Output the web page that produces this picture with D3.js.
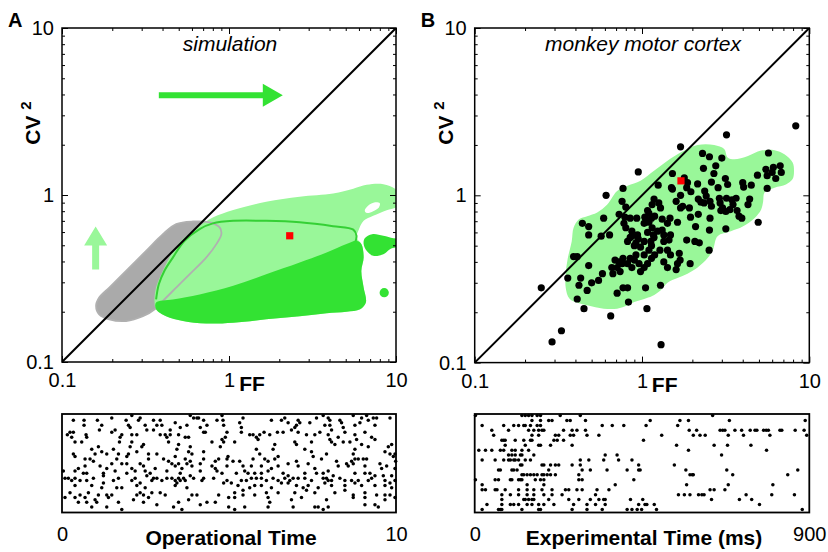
<!DOCTYPE html>
<html>
<head>
<meta charset="utf-8">
<script src="https://cdn.jsdelivr.net/npm/d3@7"></script>
<style>
  body { margin: 0; background: #fff; }
  svg { display: block; }
  text { font-family: "Liberation Sans", Arial, Helvetica, sans-serif; fill: #000; }
</style>
</head>
<body>
<svg id="fig" width="828" height="552"></svg>
<script>
// ---- data (FF, CV^2) ----
const majorTicks = [0.1, 1, 10];
const tickLabels = ["0.1", "1", "10"];
const minorTicks = [0.2, 0.3, 0.4, 0.5, 0.6, 0.7, 0.8, 0.9, 2, 3, 4, 5, 6, 7, 8, 9];

// panel A: density regions of the simulated network
const grayRegion = [[0.16,0.217],[0.167,0.243],[0.192,0.279],[0.242,0.351],[0.319,0.463],[0.402,0.583],[0.483,0.67],[0.608,0.694],[0.765,0.686],[0.879,0.64],[0.90,0.583],[0.84,0.508],[0.73,0.422],[0.58,0.335],[0.483,0.279],[0.402,0.232],[0.366,0.21],[0.305,0.188],[0.242,0.176],[0.192,0.18],[0.167,0.193]];
const lightRegion = [[0.506,0.52],[0.608,0.61],[0.714,0.686],[0.80,0.734],[1.06,0.813],[1.67,0.912],[2.65,0.977],[4.2,1.02],[5.55,1.09],[6.67,1.15],[8.4,1.16],[9.86,1.09],[10.6,0.97],[10.3,0.86],[8.8,0.81],[7.3,0.75],[6.4,0.70],[5.95,0.61],[5.8,0.557],[6.2,0.508],[6.4,0.422],[6.2,0.351],[6.4,0.279],[6.6,0.227],[6.1,0.207],[5.05,0.2],[3.84,0.196],[2.65,0.188],[1.67,0.18],[1.06,0.172],[0.73,0.17],[0.53,0.176],[0.42,0.188],[0.366,0.207],[0.358,0.232],[0.366,0.279],[0.393,0.335],[0.44,0.422]];
const darkRegion = [[0.366,0.227],[0.461,0.237],[0.667,0.254],[1.06,0.286],[1.67,0.335],[2.65,0.394],[3.84,0.452],[5.05,0.508],[5.8,0.532],[6.2,0.508],[6.4,0.422],[6.2,0.351],[6.4,0.279],[6.6,0.227],[6.1,0.207],[5.05,0.2],[3.84,0.196],[2.65,0.188],[1.67,0.18],[1.06,0.172],[0.73,0.17],[0.53,0.176],[0.42,0.188],[0.366,0.207]];
const darkIsland = [[6.5,0.55],[7.2,0.583],[8.4,0.57],[9.64,0.55],[10.6,0.544],[10.6,0.50],[9.2,0.474],[8.4,0.442],[7.3,0.432],[6.67,0.463],[6.4,0.508]];
const darkSpot = [8.5, 0.26];
const holeRegion = [[6.5,0.806],[6.8,0.863],[7.5,0.904],[8.0,0.891],[7.9,0.843],[7.3,0.80],[6.7,0.78]];
const greenContour = [[0.366,0.237],[0.38,0.292],[0.41,0.351],[0.461,0.422],[0.542,0.532],[0.667,0.625],[0.80,0.676],[1.06,0.70],[1.67,0.70],[2.65,0.686],[4.2,0.65],[5.55,0.62],[5.8,0.57],[5.7,0.52]];
const simMarker = [2.31, 0.57];
const arrowRight = { from: [0.38, 3.96], to: [2.1, 3.96] };
const arrowUp = { from: [0.159, 0.358], to: [0.159, 0.648] };

// panel B: recorded neurons
const monkeyRegion = [[1.42,1.61],[1.7,1.8],[2.15,2.0],[2.7,2.0],[3.1,1.89],[3.25,1.68],[3.56,1.64],[4.3,1.72],[5.15,1.85],[6.2,1.86],[7.1,1.76],[7.95,1.57],[8.1,1.4],[7.95,1.25],[7.25,1.16],[6.2,1.11],[5.4,1.04],[5.3,0.92],[5.15,0.82],[4.7,0.73],[4.0,0.65],[3.4,0.61],[2.83,0.57],[2.65,0.47],[2.46,0.42],[2.15,0.37],[1.87,0.34],[1.63,0.32],[1.42,0.3],[1.29,0.27],[1.15,0.25],[1.03,0.24],[0.9,0.23],[0.82,0.22],[0.71,0.21],[0.59,0.21],[0.47,0.22],[0.37,0.24],[0.35,0.28],[0.35,0.34],[0.36,0.42],[0.38,0.53],[0.39,0.64],[0.42,0.72],[0.47,0.75],[0.54,0.79],[0.62,0.88],[0.71,1.06],[0.82,1.14],[0.98,1.22],[1.18,1.4]];
const monkeyCells = [
  [8.3,2.6],[3.2,2.3],[1.7,1.95],[0.95,1.38],[0.61,1.0],[0.25,0.28],[0.33,0.155],[0.29,0.133],[1.3,0.128],[0.65,0.19],[1.07,0.21],[4.95,0.69],[0.45,0.21],[0.41,0.24],
  [2.3,1.78],[2.53,1.70],[5.7,1.79],[3.0,1.67],[2.33,1.45],[2.76,1.5],[2.69,1.35],[5.5,1.43],[6.7,1.5],[6.8,1.37],[6.3,1.26],[6.0,1.37],[5.6,1.31],[4.9,1.32],[3.15,1.26],[3.25,1.16],[4.0,1.19],[4.05,1.12],[4.5,1.15],[5.6,1.1],[2.85,1.11],[2.6,1.2],[2.15,1.17],[1.87,1.19],[1.85,1.11],[1.96,1.05],[2.37,1.06],[2.42,0.99],[2.17,0.95],[2.25,0.91],[2.55,0.92],[2.9,0.96],[2.93,0.9],[3.2,0.96],[3.45,0.94],[3.65,0.96],[3.5,0.88],[3.35,0.82],[3.03,0.84],[3.17,0.8],[3.7,0.81],[4.4,0.95],[4.3,0.88],[3.8,0.75],[2.6,0.86],[2.35,0.9],[6.1,1.47],
  [1.52,1.35],[1.79,1.27],[1.25,1.15],[1.52,1.09],[1.7,1.0],[1.6,0.92],[1.7,0.84],[1.92,0.84],[1.75,0.86],[1.95,0.74],[2.17,0.77],[2.55,0.73],[2.53,0.62],[3.17,0.63],[2.09,0.65],[2.07,0.53],[2.2,0.52],[1.85,0.54],[2.52,0.47],[1.63,0.69],[1.47,0.73],[1.42,0.68],[1.48,0.58],[1.45,0.54],[1.19,0.75],[1.14,0.73],[1.1,0.78],[1.26,0.9],[1.29,0.84],[1.15,0.88],[1.18,0.95],[1.08,0.81],[1.04,0.74],[0.93,0.73],[0.85,0.73],[0.79,0.74],[0.78,0.68],[0.8,0.64],[0.87,0.61],[0.94,0.58],[1.03,0.68],[1.1,0.69],[1.15,0.64],[1.08,0.6],[1.17,0.58],[1.24,0.61],[1.32,0.62],[1.35,0.58],[1.35,0.53],[1.18,0.56],[1.13,0.53],[1.03,0.53],[0.95,0.55],[0.92,0.52],[0.87,0.57],[0.85,0.56],[0.82,0.53],[0.9,0.5],[0.98,0.49],[1.03,0.44],[1.1,0.47],[1.14,0.42],[1.08,0.39],[1.03,0.37],[0.96,0.39],[0.9,0.41],[0.85,0.42],[0.82,0.39],[0.76,0.39],[0.73,0.4],[0.69,0.41],[0.71,0.37],[0.66,0.37],[0.67,0.34],[0.74,0.35],[0.87,0.37],[0.98,0.35],[1.19,0.44],[1.28,0.47],[1.14,0.5],[1.35,0.4],[1.42,0.37],[1.6,0.36],[1.63,0.39],[1.69,0.41],[1.94,0.39],[1.42,0.47],[1.48,0.44],[1.67,0.45],[1.29,0.29],[1.05,0.28],[0.82,0.28],[0.77,0.28],[0.71,0.26],[0.83,0.23],[0.58,0.34],[0.55,0.31],[0.5,0.3],[0.47,0.27],[0.43,0.32],[0.42,0.29],[0.48,0.38],[0.36,0.32],[0.39,0.43],[0.41,0.43],[0.44,0.68],[0.48,0.65],[0.48,0.58],[0.59,0.73],[0.57,0.57],[0.64,0.58],[0.77,1.1],[0.76,0.92],[0.73,0.77],[0.8,0.85],[1.5,1.11],[0.77,0.42],[1.32,0.72],[0.92,0.44],[2.96,0.81],[3.95,0.73]
];
const monkeyMarker = [1.71, 1.22];

// rasters
const opTimeTicks = [0, 10];
const opSpikes = [ // [operational time, trial]
  [2.09,1],[2.34,2],[3.84,1],[3.94,2],[4.04,2],[4.09,2],[4.79,1],
  [0.34,3],[0.66,3],[1.06,3],[1.49,2],[1.92,3],[2.29,3],[2.74,3],[2.94,3],[3.39,4],[4.24,3],[4.64,3],[4.82,3],
  [0.66,5],[1.19,5],[1.99,5],[2.49,5],[2.84,5],[2.99,5],[3.74,5],[4.34,5],[4.84,5],
  [1.12,7],[1.59,7],[2.04,6],[2.54,7],[2.74,7],[3.24,7],[3.54,6],[4.14,6],[4.24,8],
  [0.24,8],[0.34,8],[0.16,9],[0.72,9],[1.49,8],[1.79,9],[2.09,9],[2.94,9],[3.09,9],[3.49,9],[3.69,10],[4.29,8],[4.94,8],
  [0.29,10],[0.39,12],[0.74,10],[1.74,10],[2.24,9],[3.14,10],[3.24,9],[3.79,10],[4.79,11],[4.89,10],
  [0.59,12],[1.72,12],[2.09,12],[2.44,13],[3.19,12],[3.49,13],[4.49,12],[4.84,12],
  [0.89,15],[1.09,14],[1.54,15],[2.04,14],[2.39,14],[3.44,15],[3.84,14],[4.74,14],
  [0.34,17],[0.39,18],[0.99,17],[1.19,16],[1.34,17],[1.69,17],[1.99,17],[2.24,16],[2.59,17],[2.84,17],[3.79,16],[3.89,17],[4.24,16],
  [0.69,19],[0.84,19],[1.64,19],[1.94,18],[2.59,19],[3.04,19],[3.39,18],[3.69,19],[4.24,19],[4.59,20],[4.69,19],[4.94,19],
  [0.94,20],[1.49,21],[1.79,21],[1.94,21],[2.34,21],[3.19,20],[3.29,21],[3.49,21],[3.74,21],[3.84,20],[4.14,21],
  [0.49,23],[0.69,22],[1.14,22],[1.34,23],[2.09,23],[2.44,22],[2.79,23],[3.39,22],[3.59,23],[3.89,22],[4.49,22],[4.59,23],[4.94,22],
  [0.04,24],[0.39,24],[0.64,25],[0.74,25],[1.24,25],[1.59,24],[1.94,25],[2.19,24],[2.49,24],[2.64,25],[3.14,24],[3.54,25],[4.14,24],[4.64,24],[4.79,25],
  [0.09,27],[0.19,27],[0.29,28],[0.39,27],[0.94,27],[1.24,26],[1.69,27],[2.19,27],[2.54,26],[2.74,27],[2.84,27],[3.14,27],[3.29,27],[3.49,27],[3.64,27],[3.84,26],[3.94,27],[4.24,27],[4.54,27],
  [0.54,28],[0.74,28],[1.24,29],[1.54,28],[2.09,28],[2.34,29],[2.69,28],[2.99,28],[3.39,28],[3.44,29],[3.54,28],[3.69,28],[4.19,28],[4.84,29],[4.94,28],
  [0.39,30],[0.89,30],[1.19,31],[1.64,31],[1.79,31],[2.24,30],[2.49,31],[3.39,30],[3.74,31],
  [0.24,33],[0.54,34],[0.79,33],[1.09,34],[1.34,34],[1.49,34],[2.34,33],[2.44,34],[2.69,33],[2.94,33],[3.09,34],[3.89,34],[4.69,34],
  [0.09,35],[0.39,35],[0.69,35],[0.99,36],[1.39,35],[2.14,36],[2.24,34],[2.59,35],[3.79,36],[4.04,34],[4.99,35],
  [0.49,37],[0.74,37],[1.04,37],[1.69,37],[2.44,37],[3.49,37],[4.14,38],[4.34,37],[4.59,37],
  [0.89,39],[1.34,39],[1.79,40],[2.84,38],[3.34,39],[3.59,40],[4.99,39],
  [5.42,2],[6.27,3],[6.57,3],[6.67,2],[7.07,3],[7.62,2],[7.82,1],[7.97,2],[8.02,3],[8.32,3],[8.72,1],[8.97,2],[9.12,1],[9.32,2],[9.42,2],[9.82,2],
  [5.32,4],[5.37,6],[6.77,4],[7.02,5],[7.12,4],[7.42,4],[7.87,5],[8.02,5],[8.37,4],[8.42,6],[8.77,5],[8.92,4],[9.17,3],[9.37,5],
  [5.37,8],[5.62,9],[5.72,9],[5.82,10],[5.92,9],[6.05,8],[6.22,9],[6.45,8],[6.62,8],[6.87,7],[6.97,6],[7.07,8],[7.32,9],[7.57,9],[7.72,8],[7.97,9],[8.07,7],[8.27,10],[8.47,8],[8.77,9],[9.07,8],[9.27,10],[9.37,11],
  [5.17,12],[5.87,11],[6.37,13],[6.97,12],[7.02,13],[7.47,12],[8.02,11],[8.07,12],[8.17,13],[8.42,12],[8.62,12],[8.82,11],[8.97,13],[9.17,14],[9.77,14],[9.87,13],
  [4.97,18],[5.82,15],[5.92,17],[6.32,15],[7.27,15],[7.47,16],[7.92,17],[8.77,15],[8.72,17],[9.67,16],[9.82,17],[9.97,17],
  [5.12,20],[5.32,20],[5.72,19],[6.07,19],[6.17,20],[6.37,19],[6.47,18],[6.77,21],[7.02,20],[7.37,21],[7.52,18],[7.77,19],[8.22,20],[8.52,21],[8.67,20],[8.77,19],[8.87,19],[9.02,19],[9.12,19],[9.52,21],[9.92,18],[9.99,20],
  [5.42,22],[5.67,22],[5.97,22],[6.27,23],[6.47,22],[7.07,22],[7.57,23],[8.27,22],[8.57,22],[8.72,21],[9.07,22],[9.57,23],[9.72,22],[9.97,23],
  [5.22,25],[5.47,24],[5.57,25],[5.77,25],[5.97,25],[6.17,24],[6.62,25],[6.77,26],[7.27,25],[7.62,25],[7.82,25],[7.97,24],[8.12,26],[8.77,25],[9.07,25],[9.22,25],[9.37,26],[9.62,26],[9.87,26],
  [5.07,29],[5.37,28],[5.52,28],[5.67,27],[5.82,27],[5.97,27],[6.12,28],[6.32,27],[6.47,28],[6.67,27],[6.82,28],[6.92,27],[7.07,27],[7.27,27],[7.47,28],[7.82,27],[7.92,27],[7.97,28],[8.07,28],[8.32,27],[8.47,28],[8.67,28],[8.87,28],[9.17,28],[9.27,27],[9.67,28],[9.82,29],[9.97,28],
  [5.27,30],[5.62,31],[5.77,30],[5.97,30],[6.27,31],[6.57,29],[6.77,29],[7.02,30],[7.22,31],[7.37,30],[7.67,31],[7.87,29],[8.07,30],[8.47,30],[8.77,29],[8.97,30],[9.37,30],[9.67,30],[9.87,31],
  [5.17,33],[5.42,32],[5.77,34],[6.12,33],[6.47,33],[6.97,33],[7.32,32],[7.57,33],[8.17,33],[8.47,32],[8.72,34],[9.07,33],[9.42,34],[9.67,34],[9.82,34],
  [5.17,35],[5.42,34],[6.17,35],[6.22,37],[6.87,36],[7.17,35],[7.92,36],[8.72,35],[9.07,35],[9.67,36],[9.97,35],
  [5.17,40],[5.47,39],[6.17,39],[6.92,39],[7.57,39],[7.67,39],[7.82,40],[7.97,39],[9.07,38],[9.37,38],[9.47,39]
];
const expTimeTicks = [0, 900];
const expSpikes = [ // spike times (ms), one list per trial
  [2,127,136,145,154,168,177,230,284,640],
  [154,177,199,208,248,257,298,472,552,575,685,889],
  [20,78,105,118,132,136,150,168,177,343,370,401,461,546],
  [46,91,145,159,172,181,186,239,262,275,298,577,597,660,667,673,700,718,741,754,759,777,784,790,821,826,862,886],
  [51,154,172,217,226,257,266,302,334,503,588,606,620,682,723,794,893],
  [73,78,82,109,132,150,154,213,222,239,454],
  [82,136,172,177,204,262,543,644,680,743],
  [11,29,46,69,78,100,109,127,145,575,785],
  [91,100,109,123,127,159,351,383,664],
  [20,55,78,91,96,105,109,118,136,150,284,307,347,387,423],
  [123,127,181,186,204,217,226,262,284,441,537],
  [64,69,100,105,114,199,289,311,356,410,441,445,568,678,869],
  [127,132,141,150,159,168,181,186,195,204,217,280,579,585,588,694,842],
  [2,55,64,96,100,118,123,127,163,177,186,280,289,428],
  [20,141,186,378,570,682,802],
  [20,29,55,60,82,118,141,159,181,208,244,253,275,289,329,361,633,644,673],
  [73,96,118,141,159,186,208,235,325,548,564,579,602,611,617,730,799,860],
  [73,132,136,145,154,159,199,253,280,311,334,347,351,419,452,637,712,745],
  [33,73,96,105,118,141,154,172,186,213,266,302,325,351,441,458,463,483,766],
  [20,64,69,73,127,172,177,262,302,343,410,423,437,449,489,881]
];

// ---- colours ----
const LIGHT_GREEN = "#99f799";
const DARK_GREEN = "#33e233";
const GRAY = "#aaaaaa";

const svg = d3.select("#fig");
const defs = svg.append("defs");

function scatterPanel(opts) {
  const { left, top, size, id } = opts;
  const x = d3.scaleLog().domain([0.1, 10]).range([left, left + size]);
  const y = d3.scaleLog().domain([0.1, 10]).range([top + size, top]);

  defs.append("clipPath").attr("id", "clip-" + id)
    .append("rect").attr("x", left).attr("y", top).attr("width", size).attr("height", size);

  const plot = svg.append("g").attr("clip-path", `url(#clip-${id})`);
  const blob = d3.line().x(d => x(d[0])).y(d => y(d[1])).curve(d3.curveCatmullRomClosed.alpha(0.5));
  const open = d3.line().x(d => x(d[0])).y(d => y(d[1])).curve(d3.curveCatmullRom.alpha(0.5));

  // axes: ticks inside the box on all four sides
  const addAxis = (axis, transform, values, len, fmt, pad = 7) => {
    const g = svg.append("g").attr("transform", transform)
      .call(axis.tickValues(values).tickSize(-len).tickPadding(pad).tickFormat(fmt));
    g.select(".domain").remove();
    g.selectAll("line").attr("stroke", "#000").attr("stroke-width", 1);
    g.selectAll("text").attr("font-size", 20).attr("font-family", null);
    return g;
  };
  const none = () => "";
  addAxis(d3.axisLeft(y), `translate(${left},0)`, minorTicks, 3, none);
  addAxis(d3.axisRight(y), `translate(${left + size},0)`, minorTicks, 3, none);
  addAxis(d3.axisBottom(x), `translate(0,${top + size})`, minorTicks, 3, none);
  addAxis(d3.axisTop(x), `translate(0,${top})`, minorTicks, 3, none);
  addAxis(d3.axisRight(y), `translate(${left + size},0)`, majorTicks, 6, none);
  addAxis(d3.axisTop(x), `translate(0,${top})`, majorTicks, 6, none);
  const yl = addAxis(d3.axisLeft(y), `translate(${left},0)`, majorTicks, 6, (d, i) => tickLabels[i], 8);
  yl.selectAll("text").attr("dy", "0.32em");
  addAxis(d3.axisBottom(x), `translate(0,${top + size})`, majorTicks, 6, (d, i) => tickLabels[i], 11)
    .selectAll("text").attr("dy", "0.71em");

  svg.append("rect").attr("x", left).attr("y", top).attr("width", size).attr("height", size)
    .attr("fill", "none").attr("stroke", "#000").attr("stroke-width", 1.5);

  // titles
  svg.append("text").attr("x", left - 54).attr("y", 27).attr("font-size", 20)
    .attr("font-weight", "bold").text(opts.letter);
  svg.append("text").attr("x", left + size / 2 + 1).attr("y", 51).attr("text-anchor", "middle")
    .attr("font-size", 21).attr("font-style", "italic").text(opts.title);
  svg.append("text").attr("x", left + 190).attr("y", top + size + 29).attr("text-anchor", "middle")
    .attr("font-size", 21).attr("font-weight", "bold").text("FF");
  const cv = svg.append("text").attr("transform", `translate(${left - 22},${top + 95}) rotate(-90)`)
    .attr("text-anchor", "middle").attr("font-size", 21).attr("font-weight", "bold");
  cv.append("tspan").text("CV ");
  cv.append("tspan").attr("font-size", 15).attr("dy", -9).text("2");

  return { x, y, plot, blob, open, left, top, size };
}

// ---------------- panel A ----------------
const A = scatterPanel({ left: 62, top: 28, size: 334, id: "a", letter: "A", title: "simulation" });
A.plot.append("path").attr("d", A.blob(grayRegion)).attr("fill", GRAY);
A.plot.append("path").attr("d", A.blob(lightRegion)).attr("fill", LIGHT_GREEN);
A.plot.append("path").attr("d", A.blob(holeRegion)).attr("fill", "#fff");
A.plot.append("path").attr("d", A.blob(grayRegion)).attr("fill", "none")
  .attr("stroke", "#b0b0b0").attr("stroke-width", 1.8);
A.plot.append("path").attr("d", A.open(greenContour)).attr("fill", "none")
  .attr("stroke", "#35d035").attr("stroke-width", 2);
A.plot.append("path").attr("d", A.blob(darkRegion)).attr("fill", DARK_GREEN);
A.plot.append("path").attr("d", A.blob(darkIsland)).attr("fill", DARK_GREEN);
A.plot.append("circle").attr("cx", A.x(darkSpot[0])).attr("cy", A.y(darkSpot[1])).attr("r", 4.6)
  .attr("fill", DARK_GREEN);
A.plot.append("line").attr("x1", A.x(0.1)).attr("y1", A.y(0.1)).attr("x2", A.x(10)).attr("y2", A.y(10))
  .attr("stroke", "#000").attr("stroke-width", 2);
A.plot.append("rect").attr("x", A.x(simMarker[0]) - 3.6).attr("y", A.y(simMarker[1]) - 3.6)
  .attr("width", 7.2).attr("height", 7.2).attr("fill", "#f00");

// arrows
function arrowPath(p0, p1, shaft, headLen, headHalf) {
  const dx = p1[0] - p0[0], dy = p1[1] - p0[1];
  const L = Math.hypot(dx, dy), ux = dx / L, uy = dy / L, nx = -uy, ny = ux;
  const b = [p1[0] - ux * headLen, p1[1] - uy * headLen];
  const pts = [
    [p0[0] + nx * shaft / 2, p0[1] + ny * shaft / 2],
    [b[0] + nx * shaft / 2, b[1] + ny * shaft / 2],
    [b[0] + nx * headHalf, b[1] + ny * headHalf],
    p1,
    [b[0] - nx * headHalf, b[1] - ny * headHalf],
    [b[0] - nx * shaft / 2, b[1] - ny * shaft / 2],
    [p0[0] - nx * shaft / 2, p0[1] - ny * shaft / 2]
  ];
  return "M" + pts.map(p => p.join(",")).join("L") + "Z";
}
const toPx = (s, d) => [s.x(d[0]), s.y(d[1])];
A.plot.append("path").attr("fill", DARK_GREEN)
  .attr("d", arrowPath(toPx(A, arrowRight.from), toPx(A, arrowRight.to), 6, 20, 11.5));
A.plot.append("path").attr("fill", LIGHT_GREEN)
  .attr("d", arrowPath(toPx(A, arrowUp.from), toPx(A, arrowUp.to), 7, 19, 11.5));

// ---------------- panel B ----------------
const B = scatterPanel({ left: 474.7, top: 28, size: 334.6, id: "b", letter: "B", title: "monkey motor cortex" });
B.plot.append("path").attr("d", B.blob(monkeyRegion)).attr("fill", LIGHT_GREEN);
B.plot.append("line").attr("x1", B.x(0.1)).attr("y1", B.y(0.1)).attr("x2", B.x(10)).attr("y2", B.y(10))
  .attr("stroke", "#000").attr("stroke-width", 2);
B.plot.selectAll("circle.cell").data(monkeyCells).enter().append("circle")
  .attr("class", "cell").attr("cx", d => B.x(d[0])).attr("cy", d => B.y(d[1])).attr("r", 3.6)
  .attr("fill", "#000");
B.plot.append("rect").attr("x", B.x(monkeyMarker[0]) - 3.6).attr("y", B.y(monkeyMarker[1]) - 3.6)
  .attr("width", 7.2).attr("height", 7.2).attr("fill", "#f00");

// ---------------- rasters ----------------
function raster(opts) {
  const { left, width, top, height } = opts;
  const x = d3.scaleLinear().domain(opts.domain).range([left, left + width]);
  const y = d3.scaleLinear().domain([1, opts.trials]).range([top + 1.5, top + height - 3]);
  svg.append("g").selectAll("circle").data(opts.spikes).enter().append("circle")
    .attr("cx", d => x(d[0])).attr("cy", d => y(d[1])).attr("r", 1.75).attr("fill", "#000");
  svg.append("rect").attr("x", left).attr("y", top).attr("width", width).attr("height", height)
    .attr("fill", "none").attr("stroke", "#000").attr("stroke-width", 1.8);
  const ax = svg.append("g").attr("transform", `translate(0,${top + height})`)
    .call(d3.axisBottom(x).tickValues(opts.ticks).tickSize(0).tickPadding(14).tickFormat(d3.format("d")));
  ax.select(".domain").remove();
  ax.selectAll("text").attr("font-size", 20).attr("font-family", null);
  svg.append("text").attr("x", left + width / 2 + 2).attr("y", top + height + 32)
    .attr("text-anchor", "middle").attr("font-size", 21).attr("font-weight", "bold").text(opts.label);
}

raster({ left: 62, width: 334, top: 414, height: 98.5, domain: [0, 10], trials: 40,
  spikes: opSpikes, ticks: opTimeTicks, label: "Operational Time" });
raster({ left: 474.7, width: 334.6, top: 414, height: 98.5, domain: [0, 900], trials: 20,
  spikes: expSpikes.flatMap((times, i) => times.map(t => [t, i + 1])),
  ticks: expTimeTicks, label: "Experimental Time (ms)" });
</script>
</body>
</html>
